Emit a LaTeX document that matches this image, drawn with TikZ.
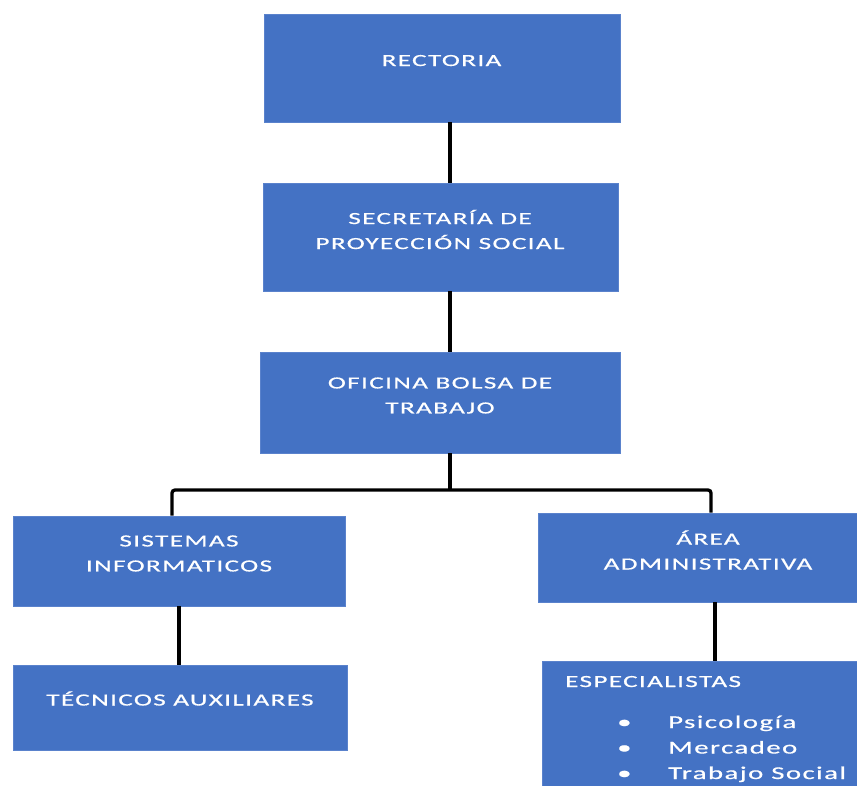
\documentclass[tikz,border=0pt]{standalone}
\usepackage{fontspec}
\setmainfont{Carlito}[FakeStretch=1.6, LetterSpace=8, FakeBold=0.6]
\definecolor{boxblue}{HTML}{4472C4}
\definecolor{boxedge}{HTML}{5A82CC}
\begin{document}
\begin{tikzpicture}[x=1pt,y=-1pt,
  box/.style={draw=boxedge, line width=0.8pt, fill=boxblue, rectangle, inner sep=0pt},
  lbl/.style={text=white, font=\fontsize{17}{25}\selectfont, align=center, inner sep=0pt},
  lst/.style={text=white, font=\fontsize{18}{25.5}\selectfont, align=left, inner sep=0pt, anchor=base west},
  conn/.style={draw=black, line width=3.3pt}]
\path[use as bounding box] (0,0) rectangle (857,785);
\clip (0,0) rectangle (857,785);
% boxes
\node[box, minimum width=356pt, minimum height=108pt] (rect) at (442,68) {};
\node[box, minimum width=355pt, minimum height=108pt] (sec) at (440.5,237) {};
\node[box, minimum width=360pt, minimum height=101pt] (ofi) at (440,402.5) {};
\node[box, minimum width=332pt, minimum height=90pt] (sis) at (179,561) {};
\node[box, minimum width=340pt, minimum height=89pt] (area) at (708,557.5) {};
\node[box, minimum width=334pt, minimum height=85pt] (tec) at (180,707.5) {};
\node[box, minimum width=338pt, minimum height=139pt] (esp) at (711,730.5) {};
% texts
\node[lbl, anchor=base] (trect) at (441.5,66) {RECTORIA};
\node[lbl, anchor=center] (tsec) at (440,229.5) {SECRETARÍA DE\\PROYECCIÓN SOCIAL};
\node[lbl, anchor=center] (tofi) at (440,395.5) {OFICINA BOLSA DE\\TRABAJO};
\node[lbl, anchor=center] (tsis) at (179,553.5) {SISTEMAS\\INFORMATICOS};
\node[lbl, anchor=center] (tarea) at (708,550) {ÁREA\\ADMINISTRATIVA};
\node[lbl, anchor=base] (ttec) at (180,705.5) {TÉCNICOS AUXILIARES};
\node[lbl, anchor=base west] (tesp) at (565,687) {ESPECIALISTAS};
\node[lst] (b1) at (617,728) {•};
\node[lst] (b2) at (617,753.5) {•};
\node[lst] (b3) at (617,779) {•};
\node[lst] (l1) at (668,728) {Psicología};
\node[lst] (l2) at (668,753.5) {Mercadeo};
\node[lst] (l3) at (668,779) {Trabajo Social};
% connectors
\coordinate (t) at (450,0);
\coordinate (bm) at (450,490);
\coordinate (bl) at (172,490);
\coordinate (br) at (711,490);
\coordinate (cl) at (179,0);
\coordinate (cr) at (715,0);
\draw[conn] (rect.south -| t) -- (sec.north -| t);
\draw[conn] (sec.south -| t) -- (ofi.north -| t);
\draw[conn] (ofi.south -| t) -- (bm);
\draw[conn, rounded corners=3pt] (sis.north -| bl) -- (bl) -- (br) -- (area.north -| br);
\draw[conn] (sis.south -| cl) -- (tec.north -| cl);
\draw[conn] (area.south -| cr) -- (esp.north -| cr);
\end{tikzpicture}
\end{document}
